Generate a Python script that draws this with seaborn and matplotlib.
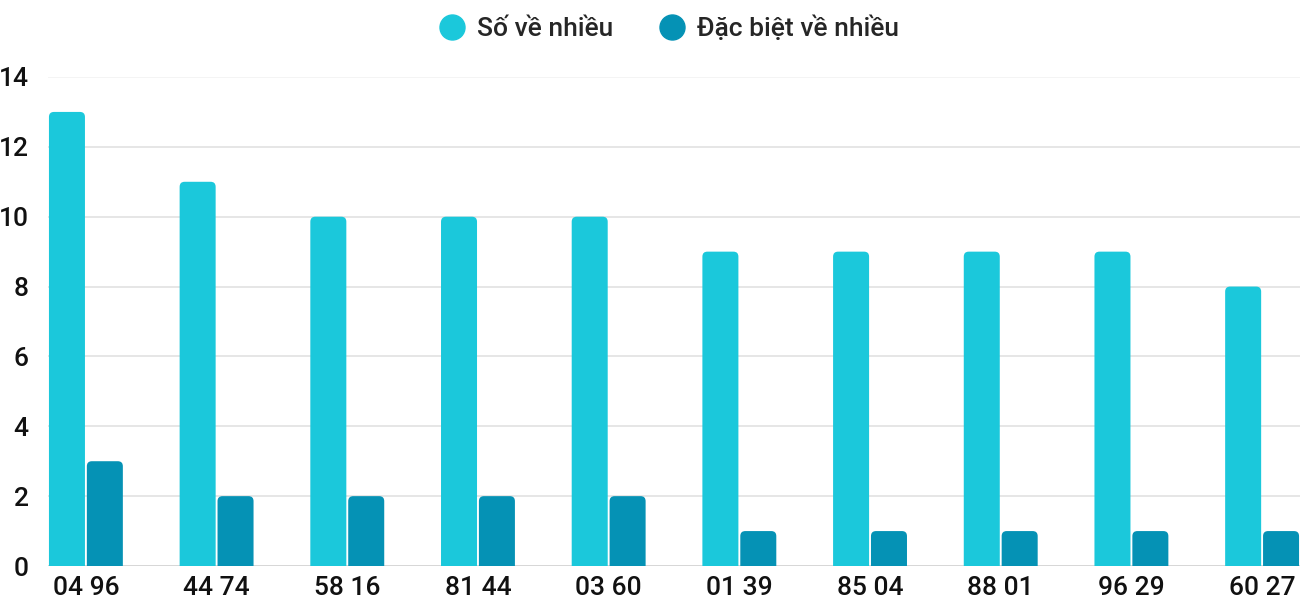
import matplotlib
matplotlib.use("Agg")
import matplotlib.pyplot as plt
from matplotlib.patches import FancyBboxPatch, Rectangle
from matplotlib.lines import Line2D
import seaborn as sns
import pandas as pd

categories = ["04 96", "44 74", "58 16", "81 44", "03 60", "01 39", "85 04", "88 01", "96 29", "60 27"]
so_ve_nhieu = [13, 11, 10, 10, 10, 9, 9, 9, 9, 8]
dac_biet_ve_nhieu = [3, 2, 2, 2, 2, 1, 1, 1, 1, 1]
series_names = ["Số về nhiều", "Đặc biệt về nhiều"]
colors = ["#1BC8DB", "#0592B5"]
yticks = [0, 2, 4, 6, 8, 10, 12, 14]

df = pd.DataFrame({
    "cat": categories * 2,
    "val": so_ve_nhieu + dac_biet_ve_nhieu,
    "series": [series_names[0]] * len(categories) + [series_names[1]] * len(categories),
})

sns.set_theme(style="white")
plt.rcParams["font.family"] = ["Roboto", "DejaVu Sans"]
plt.rcParams["font.weight"] = "medium"

fig = plt.figure(figsize=(13, 6), dpi=100)
ax = fig.add_axes([48 / 1300, 34 / 600, 1252 / 1300, 489 / 600])

sns.barplot(data=df, x="cat", y="val", hue="series", palette=colors,
            width=0.58, gap=0.05, ax=ax, legend=False, saturation=1)

ax.set_ylim(0, 14)
ax.set_xlim(-0.29, 9.29)
ax.set_yticks(yticks)
ax.set_xlabel("")
ax.set_ylabel("")
for s in ax.spines.values():
    s.set_visible(False)

for t in yticks:
    ax.axhline(t, color="#F2F2F2" if t == 14 else ("#CFCFCF" if t == 0 else "#E2E2E2"),
               lw=1.2, zorder=0.5)

# rounded top corners
px_x = 1252 / 9.58
px_y = 489 / 14
rx = 5 / px_x
ry = 5 / px_y
bars = [p for p in ax.patches if isinstance(p, Rectangle)]
for p in bars:
    x, y = p.get_x(), p.get_y()
    w, h = p.get_width(), p.get_height()
    fc = p.get_facecolor()
    p.remove()
    fb = FancyBboxPatch((x, y - ry), w, h + ry,
                        boxstyle=f"round,pad=0,rounding_size={rx}",
                        mutation_aspect=ry / rx, facecolor=fc, edgecolor="none",
                        zorder=2, clip_on=True)
    ax.add_patch(fb)

ax.tick_params(axis="y", length=0, pad=14, labelsize=19, labelcolor="#111111")
ax.tick_params(axis="x", length=0, pad=7, labelsize=19, labelcolor="#111111")

handles = [Line2D([0], [0], marker="o", linestyle="none", markersize=18,
                  markerfacecolor=c, markeredgecolor=c) for c in colors]
fig.legend(handles, series_names, loc="center", bbox_to_anchor=(0.515, 0.953),
           ncol=2, frameon=False, handlelength=0.9, handletextpad=0.5,
           columnspacing=1.8, prop={"size": 19, "weight": "medium"})

fig.savefig("out.png", dpi=100, facecolor="white")
